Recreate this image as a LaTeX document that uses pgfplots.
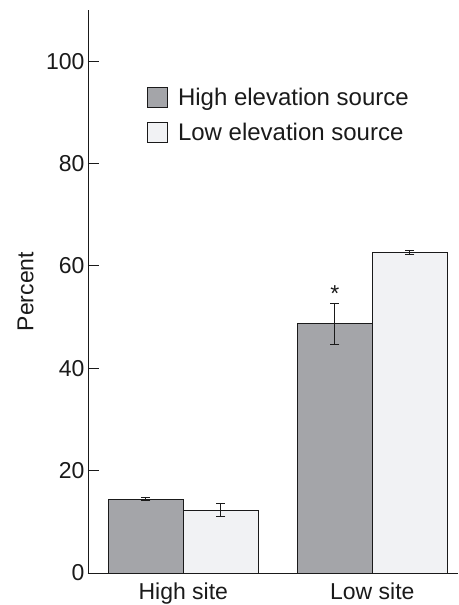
\documentclass[border=0pt]{standalone}
\usepackage{pgfplots}
\pgfplotsset{compat=1.18}
\usepackage{fontspec}
\setmainfont{Liberation Sans}
\definecolor{darkbar}{HTML}{A4A5A9}
\definecolor{lightbar}{HTML}{F1F2F4}
\definecolor{ink}{HTML}{1A1A1A}
\newcommand{\bigfont}{\fontsize{23bp}{27bp}\selectfont}
\newcommand{\legfont}{\fontsize{24bp}{28bp}\selectfont}
\begin{document}
\begin{tikzpicture}
\useasboundingbox (-88bp,-32bp) rectangle (371bp,573bp);
\begin{axis}[
  scale only axis,
  width=370bp, height=563bp,
  xmin=-0.504, xmax=1.453,
  ymin=0, ymax=110,
  axis x line=bottom, axis y line=left,
  axis line style={-, ink, line width=1pt},
  xtick={0,1}, xticklabels={High site, Low site},
  x tick style={draw=none},
  ytick={0,20,40,60,80,100},
  y tick style={ink, line width=1pt},
  tick align=inside, major tick length=11bp,
  /pgf/number format/assume math mode=true,
  tick label style={font=\bigfont, text=ink},
  xticklabel style={yshift=5bp},
  ylabel={Percent},
  ylabel style={font=\bigfont, text=ink, at={(axis description cs:-0.169,0.5)}, anchor=center},
  ybar, bar width=75bp,
  legend style={at={(axis description cs:0.159,0.865)}, anchor=north west, draw=none, fill=none,
    font=\legfont, text=ink, inner sep=0pt, row sep=12bp, cells={anchor=west},
    /tikz/every odd column/.append style={column sep=8bp}},
  legend image code/.code={\draw[#1, line width=1pt, /pgfplots/bar shift=0pt] (0bp,-10bp) rectangle (20bp,10bp);},
  clip=false,
]
\addplot[fill=darkbar, draw=ink, line width=1pt, bar shift=-37.5bp,
  error bars/.cd, y dir=both, y explicit,
  error bar style={line width=1pt, ink},
  error mark options={rotate=90, mark size=4.5bp, line width=1pt, ink}]
  coordinates {(0,14.4) +- (0,0.3) (1,48.7) +- (0,4.0)};
\addlegendentry{High elevation source}
\addplot[fill=lightbar, draw=ink, line width=1pt, bar shift=37.5bp,
  error bars/.cd, y dir=both, y explicit,
  error bar style={line width=1pt, ink},
  error mark options={rotate=90, mark size=4.5bp, line width=1pt, ink}]
  coordinates {(0,12.3) +- (0,1.3) (1,62.6) +- (0,0.35)};
\addlegendentry{Low elevation source}
\node[font=\bigfont, text=ink, anchor=base, inner sep=0pt] at (axis cs:0.8016,53.1) {*};
\end{axis}
\end{tikzpicture}
\end{document}
